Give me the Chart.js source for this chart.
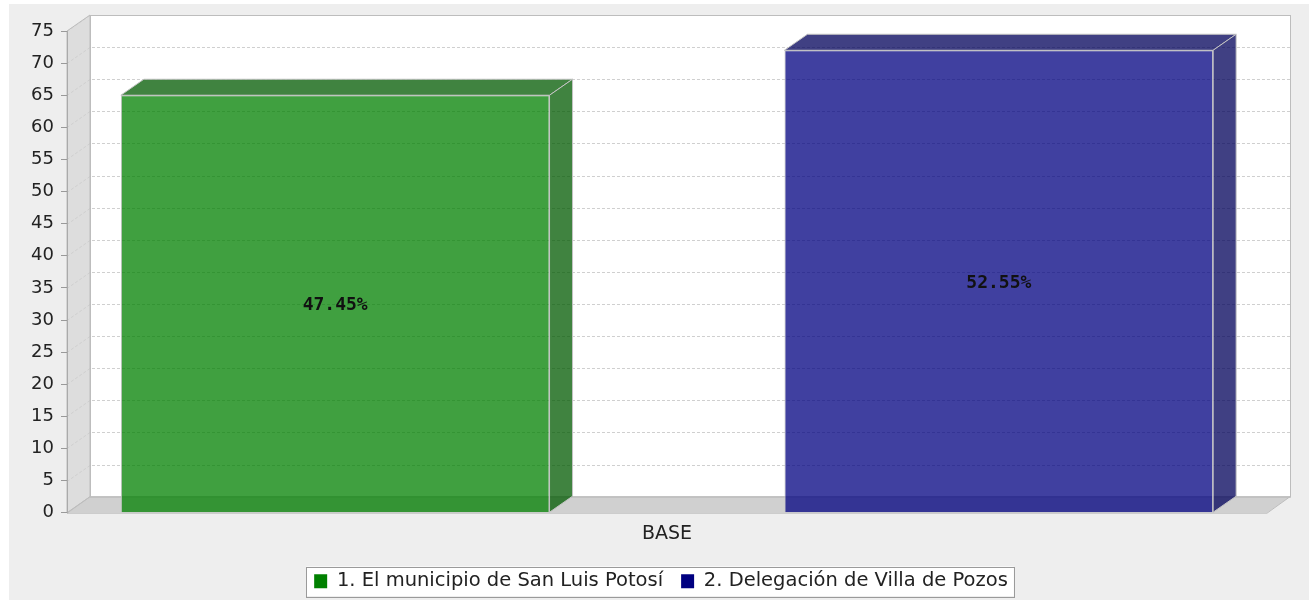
<!DOCTYPE html>
<html>
<head>
<meta charset="utf-8">
<script src="https://cdn.jsdelivr.net/npm/chart.js@4.4.1/dist/chart.umd.min.js"></script>
<style>
	html, body { margin: 0; padding: 0; background: #fff; }
	#wrap { width: 1309px; height: 600px; }
</style>
</head>
<body>
<div id="wrap"><canvas id="chart" width="1309" height="600"></canvas></div>
<script>
const categories = ["BASE"];
const seriesNames = ["1. El municipio de San Luis Potosí", "2. Delegación de Villa de Pozos"];
const seriesValues = [65, 72];
const seriesLabels = ["47.45%", "52.55%"];
const seriesColors = [[0, 128, 0], [0, 0, 128]];
const yMin = 0;
const yMax = 75;
const yStep = 5;

// depth of the fake 3D box
const DX = 23;
const DY = 16;
const FONT = "'DejaVu Sans', sans-serif";

const rgba = (c, a) => `rgba(${c[0]},${c[1]},${c[2]},${a})`;
const darker = (c) => c.map((v) => Math.floor(v * 0.7));

const poly = (ctx, pts, fill, stroke) => {
	ctx.beginPath();
	ctx.moveTo(pts[0][0], pts[0][1]);
	pts.slice(1).forEach((p) => ctx.lineTo(p[0], p[1]));
	ctx.closePath();
	if (fill) {
		ctx.fillStyle = fill;
		ctx.fill();
	}
	if (stroke) {
		ctx.strokeStyle = stroke;
		ctx.stroke();
	}
};

const legendBounds = (chart) => {
	const boxes = chart.legend.legendHitBoxes;
	const left = Math.min(...boxes.map((b) => b.left)) - 8;
	const right = Math.max(...boxes.map((b) => b.left + b.width)) + 6;
	const top = Math.min(...boxes.map((b) => b.top)) - 5;
	const bottom = Math.max(...boxes.map((b) => b.top + b.height)) + 5;
	return { left, right, top, bottom };
};

const box3d = {
	id: "box3d",
	beforeDraw(chart) {
		const { ctx, width, height, chartArea: a, scales } = chart;
		const y = scales.y;
		ctx.save();
		ctx.fillStyle = "#fff";
		ctx.fillRect(0, 0, width, height);
		ctx.fillStyle = "#eeeeee";
		ctx.fillRect(9, 4, width - 9, height - 4);

		ctx.lineWidth = 1;
		// back wall
		ctx.fillStyle = "#fff";
		ctx.fillRect(a.left + DX, a.top - DY, a.width, a.height);
		// left wall
		poly(ctx, [
			[a.left, a.top],
			[a.left + DX, a.top - DY],
			[a.left + DX, a.bottom - DY],
			[a.left, a.bottom],
		], "#dddddd", null);
		// floor
		poly(ctx, [
			[a.left, a.bottom],
			[a.right, a.bottom],
			[a.right + DX, a.bottom - DY],
			[a.left + DX, a.bottom - DY],
		], "#d0d0d0", null);

		// dashed grid on the walls
		ctx.setLineDash([3, 2]);
		ctx.strokeStyle = "#cfcfcf";
		y.ticks.forEach((t) => {
			const py = Math.round(y.getPixelForValue(t.value)) + 0.5;
			ctx.beginPath();
			ctx.moveTo(a.left, py);
			ctx.lineTo(a.left + DX, py - DY);
			ctx.lineTo(a.right + DX, py - DY);
			ctx.stroke();
		});
		ctx.setLineDash([]);

		// outlines
		ctx.strokeStyle = "#bdbdbd";
		ctx.strokeRect(a.left + DX + 0.5, a.top - DY + 0.5, a.width, a.height);
		poly(ctx, [
			[a.left, a.top],
			[a.left + DX, a.top - DY],
			[a.left + DX, a.bottom - DY],
			[a.left, a.bottom],
		], null, "#bdbdbd");
		poly(ctx, [
			[a.left, a.bottom + 0.5],
			[a.right, a.bottom + 0.5],
			[a.right + DX, a.bottom - DY],
			[a.left + DX, a.bottom - DY],
		], null, "#bdbdbd");

		// legend frame background
		const lb = legendBounds(chart);
		ctx.fillStyle = "#fff";
		ctx.fillRect(lb.left, lb.top, lb.right - lb.left, lb.bottom - lb.top);
		ctx.restore();
	},
	afterDatasetsDraw(chart) {
		const { ctx } = chart;
		ctx.save();
		ctx.lineWidth = 1;
		chart.data.datasets.forEach((ds, i) => {
			const meta = chart.getDatasetMeta(i);
			const side = rgba(darker(seriesColors[i]), 0.75);
			meta.data.forEach((bar) => {
				const { x, y, base, width } = bar.getProps(["x", "y", "base", "width"], true);
				const l = x - width / 2;
				const r = x + width / 2;
				// top face
				poly(ctx, [[l, y], [r, y], [r + DX, y - DY], [l + DX, y - DY]], side, "#c4c4c4");
				// right face
				poly(ctx, [[r, y], [r + DX, y - DY], [r + DX, base - DY], [r, base]], side, "#c4c4c4");
				// value label
				ctx.fillStyle = "#111";
				ctx.font = `bold 18px 'DejaVu Sans Mono', monospace`;
				ctx.textAlign = "center";
				ctx.textBaseline = "middle";
				ctx.fillText(seriesLabels[i], x, (y + base) / 2 + 2);
			});
		});
		ctx.restore();
	},
	afterDraw(chart) {
		const { ctx } = chart;
		const lb = legendBounds(chart);
		ctx.save();
		ctx.strokeStyle = "#9a9a9a";
		ctx.lineWidth = 1;
		ctx.strokeRect(Math.round(lb.left) + 0.5, Math.round(lb.top) + 0.5, Math.round(lb.right - lb.left), Math.round(lb.bottom - lb.top));
		ctx.restore();
	},
};

new Chart(document.getElementById("chart"), {
	type: "bar",
	data: {
		labels: categories,
		datasets: seriesNames.map((name, i) => ({
			label: name,
			data: [seriesValues[i]],
			backgroundColor: rgba(seriesColors[i], 0.75),
			borderColor: "#c4c4c4",
			borderWidth: 1,
			categoryPercentage: 1.106,
			barPercentage: 0.646,
		})),
	},
	options: {
		responsive: false,
		animation: false,
		layout: {
			padding: { left: 13, right: 0, top: 31, bottom: -1 },
		},
		plugins: {
			tooltip: { enabled: false },
			legend: {
				position: "bottom",
				labels: {
					boxWidth: 13,
					boxHeight: 14,
					padding: 18,
					color: "#222",
					font: { family: FONT, size: 19.5 },
					generateLabels: (chart) =>
						Chart.defaults.plugins.legend.labels.generateLabels(chart).map((item, i) => ({
							...item,
							fillStyle: rgba(seriesColors[i], 1),
							strokeStyle: rgba(seriesColors[i], 1),
							lineWidth: 0,
						})),
				},
			},
		},
		scales: {
			x: {
				grid: { display: false },
				border: { display: false },
				ticks: {
					padding: 2,
					color: "#222",
					font: { family: FONT, size: 19 },
				},
				afterFit: (scale) => {
					scale.height += 6;
				},
			},
			y: {
				min: yMin,
				max: yMax,
				ticks: {
					stepSize: yStep,
					padding: 7,
					color: "#222",
					font: { family: FONT, size: 18 },
				},
				grid: {
					drawOnChartArea: false,
					drawTicks: true,
					tickLength: 6,
					color: "#999",
				},
				border: { color: "#aaa" },
				afterFit: (scale) => {
					scale.width = 54;
				},
			},
			yRight: {
				type: "linear",
				position: "right",
				grid: { display: false },
				border: { display: false },
				ticks: { display: false },
				afterFit: (scale) => {
					scale.width = 42;
				},
			},
		},
	},
	plugins: [box3d],
});
</script>
</body>
</html>
